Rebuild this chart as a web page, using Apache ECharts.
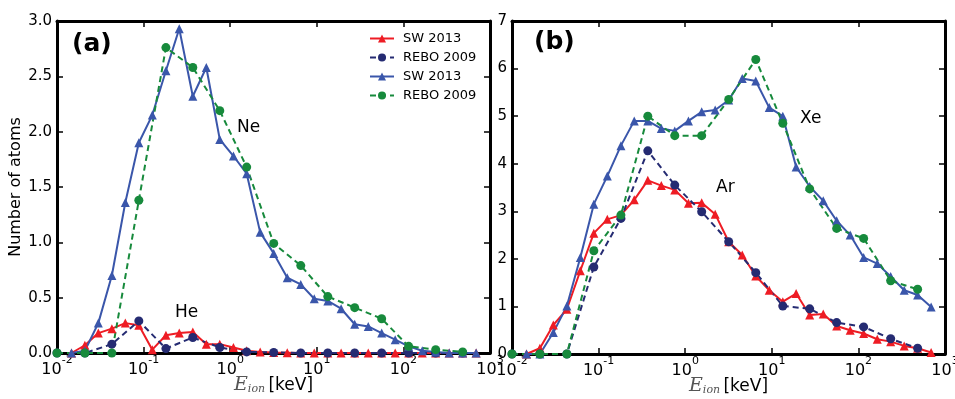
<!DOCTYPE html>
<html>
<head>
<meta charset="utf-8">
<script src="https://cdn.jsdelivr.net/npm/echarts@6/dist/echarts.min.js"></script>
<style>
  html, body { margin: 0; padding: 0; background: #fff; }
  #chart { width: 955px; height: 399px; }
</style>
</head>
<body>
<div id="chart"></div>
<script>
// ion energies (keV)
const swEnergy = [0.0147, 0.021, 0.030, 0.043, 0.0615, 0.0881, 0.126, 0.181, 0.258, 0.370,
  0.530, 0.758, 1.09, 1.55, 2.22, 3.18, 4.56, 6.53, 9.34, 13.4,
  19.1, 27.4, 39.3, 56.1, 80.4, 115, 165, 236, 338, 483, 692]
const reboEnergy = [0.01, 0.021, 0.043, 0.0881, 0.181, 0.370, 0.758, 1.55, 3.18, 6.53,
  13.4, 27.4, 56.1, 115, 236, 483]

// panel (a)
const heSW = [0, 0.07, 0.18, 0.22, 0.27, 0.25, 0.03, 0.16, 0.18, 0.19,
  0.08, 0.08, 0.05, 0.02, 0.01, 0.005, 0.003, 0, 0, 0,
  0, 0, 0, 0, 0, 0, 0, 0, 0, 0, 0]
const heREBO = [0, 0, 0.08, 0.29, 0.04, 0.14, 0.05, 0.01, 0.005, 0,
  0, 0, 0, 0, 0, 0]
const neSW = [0, 0.02, 0.27, 0.70, 1.36, 1.90, 2.15, 2.55, 2.93, 2.32,
  2.58, 1.93, 1.78, 1.62, 1.09, 0.90, 0.68, 0.62, 0.49, 0.47,
  0.40, 0.26, 0.24, 0.18, 0.12, 0.06, 0.02, 0.01, 0, 0, 0]
const neREBO = [0, 0, 0, 1.38, 2.76, 2.58, 2.19, 1.68, 0.99, 0.79,
  0.51, 0.41, 0.31, 0.06, 0.03, 0.01]

// panel (b)
const arSW = [0, 0.12, 0.61, 0.94, 1.75, 2.54, 2.83, 2.92, 3.24, 3.65,
  3.54, 3.45, 3.17, 3.18, 2.94, 2.36, 2.08, 1.64, 1.34, 1.10,
  1.27, 0.82, 0.84, 0.59, 0.50, 0.43, 0.31, 0.26, 0.17, 0.12, 0.03]
const arREBO = [0, 0, 0, 1.83, 2.85, 4.27, 3.55, 2.99, 2.36, 1.71,
  1.01, 0.95, 0.66, 0.57, 0.32, 0.12]
const xeSW = [0, 0, 0.45, 1.01, 2.03, 3.15, 3.74, 4.38, 4.90, 4.90,
  4.74, 4.69, 4.90, 5.09, 5.13, 5.34, 5.79, 5.74, 5.18, 5.00,
  3.93, 3.52, 3.22, 2.80, 2.50, 2.03, 1.90, 1.63, 1.34, 1.24, 0.99]
const xeREBO = [0, 0, 0, 2.17, 2.92, 5.00, 4.59, 4.59, 5.35, 6.19,
  4.85, 3.47, 2.64, 2.43, 1.54, 1.36]

const legendLabels = { heSW: 'SW 2013', heREBO: 'REBO 2009', neSW: 'SW 2013', neREBO: 'REBO 2009' }

const RED = '#ee1c24'
const NAVY = '#252b72'
const BLUE = '#3a56aa'
const GREEN = '#178a3c'
const FONT = 'DejaVu Sans'

const pair = (xs, ys) => xs.map((x, i) => [x, ys[i]])

const sw = (name, ys, color, panel) => ({
  name,
  type: 'line',
  xAxisIndex: panel * 2,
  yAxisIndex: panel * 2,
  data: pair(swEnergy, ys),
  symbol: 'triangle',
  symbolSize: 9,
  lineStyle: { color, width: 2 },
  itemStyle: { color },
  animation: false
})
const rebo = (name, ys, color, panel) => ({
  name,
  type: 'line',
  xAxisIndex: panel * 2,
  yAxisIndex: panel * 2,
  data: pair(reboEnergy, ys),
  symbol: 'circle',
  symbolSize: 9,
  lineStyle: { color, width: 2, type: [6, 4] },
  itemStyle: { color },
  animation: false
})

const tickLabel = v => {
  const e = Math.round(Math.log10(v))
  return '{b|10}{s|' + e + '}'
}

const xAxisBase = (grid, position, show) => ({
  type: 'log',
  logBase: 10,
  gridIndex: grid,
  position,
  min: 0.01,
  max: 1000,
  axisLine: { show: true, onZero: false, lineStyle: { color: '#000', width: 3 } },
  axisTick: { show: true, inside: true, length: 6, lineStyle: { color: '#000', width: 1.5 } },
  splitLine: { show: false },
  axisLabel: {
    show,
    margin: 2,
    formatter: tickLabel,
    rich: {
      b: { fontFamily: FONT, fontSize: 16, color: '#000', lineHeight: 23, verticalAlign: 'bottom' },
      s: { fontFamily: FONT, fontSize: 11, color: '#000', lineHeight: 23, verticalAlign: 'top' }
    }
  },
  name: show ? '{e|E}{i|ion} {k|[keV]}' : '',
  nameLocation: 'middle',
  nameGap: 23,
  nameMoveOverlap: false,
  nameTextStyle: {
    rich: {
      e: { fontFamily: 'DejaVu Serif', fontStyle: 'italic', fontSize: 19, color: '#555' },
      i: { fontFamily: 'DejaVu Serif', fontStyle: 'italic', fontSize: 11, color: '#555', padding: [8, 0, 0, 0] },
      k: { fontFamily: FONT, fontSize: 17, color: '#000' }
    }
  }
})

const yAxisBase = (grid, position, show, max, interval, digits, name) => ({
  type: 'value',
  gridIndex: grid,
  position,
  min: 0,
  max,
  interval,
  axisLine: { show: true, onZero: false, lineStyle: { color: '#000', width: 3 } },
  axisTick: { show: true, inside: true, length: 6, lineStyle: { color: '#000', width: 1.5 } },
  splitLine: { show: false },
  axisLabel: {
    show,
    margin: 5,
    fontFamily: FONT,
    fontSize: 15,
    color: '#000',
    formatter: v => v.toFixed(digits)
  },
  name,
  nameLocation: 'middle',
  nameGap: 27,
  nameTextStyle: { fontFamily: FONT, fontSize: 16, color: '#000' }
})

const chart = echarts.init(document.getElementById('chart'), null, { renderer: 'canvas' })

const option = {
  backgroundColor: '#fff',
  animation: false,
  grid: [
    { left: 57, top: 21, width: 433, height: 332, containLabel: false, outerBoundsMode: 'none' },
    { left: 512, top: 21, width: 433, height: 333, containLabel: false, outerBoundsMode: 'none' }
  ],
  xAxis: [
    xAxisBase(0, 'bottom', true),
    xAxisBase(0, 'top', false),
    xAxisBase(1, 'bottom', true),
    xAxisBase(1, 'top', false)
  ],
  yAxis: [
    yAxisBase(0, 'left', true, 3, 0.5, 1, 'Number of atoms'),
    yAxisBase(0, 'right', false, 3, 0.5, 1, ''),
    yAxisBase(1, 'left', true, 7, 1, 0, ''),
    yAxisBase(1, 'right', false, 7, 1, 0, '')
  ],
  legend: {
    data: ['heSW', 'heREBO', 'neSW', 'neREBO'],
    orient: 'vertical',
    left: 364,
    top: 27,
    itemWidth: 24,
    itemHeight: 10,
    itemGap: 6,
    formatter: n => legendLabels[n],
    textStyle: { fontFamily: FONT, fontSize: 13, color: '#000', padding: [0, 0, 0, 4] }
  },
  graphic: [
    { type: 'text', left: 72, top: 32, style: { text: '(a)', font: 'bold 25px "DejaVu Sans"', fill: '#000' } },
    { type: 'text', left: 534, top: 30, style: { text: '(b)', font: 'bold 25px "DejaVu Sans"', fill: '#000' } },
    { type: 'text', left: 237, top: 119, style: { text: 'Ne', font: '17px "DejaVu Sans"', fill: '#000' } },
    { type: 'text', left: 175, top: 304, style: { text: 'He', font: '17px "DejaVu Sans"', fill: '#000' } },
    { type: 'text', left: 800, top: 110, style: { text: 'Xe', font: '17px "DejaVu Sans"', fill: '#000' } },
    { type: 'text', left: 716, top: 179, style: { text: 'Ar', font: '17px "DejaVu Sans"', fill: '#000' } }
  ],
  series: [
    sw('heSW', heSW, RED, 0),
    rebo('heREBO', heREBO, NAVY, 0),
    sw('neSW', neSW, BLUE, 0),
    rebo('neREBO', neREBO, GREEN, 0),
    sw('arSW', arSW, RED, 1),
    rebo('arREBO', arREBO, NAVY, 1),
    sw('xeSW', xeSW, BLUE, 1),
    rebo('xeREBO', xeREBO, GREEN, 1)
  ]
}

chart.setOption(option)
</script>
</body>
</html>
